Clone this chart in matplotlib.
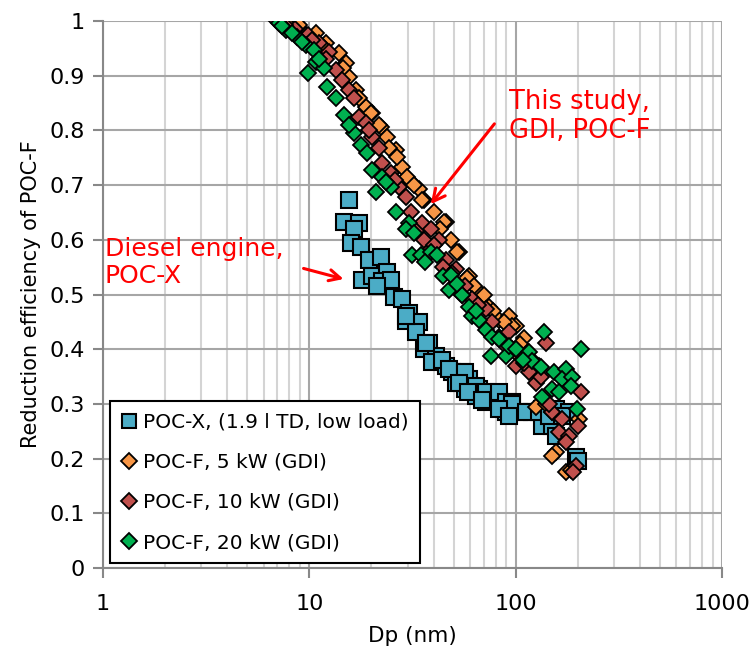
import matplotlib.pyplot as plt
from matplotlib.ticker import LogLocator, NullFormatter, FixedLocator

# POC-X, 1.9 l TD, low load
x_dp = [15.6, 14.7, 17.4, 16.4, 15.9, 17.8, 19.5, 22.3, 18.0, 20.1, 23.8, 22.5, 24.9, 21.3,
        25.7, 28.1, 30.4, 29.4, 34.0, 33.0, 38.1, 36.0, 41.0, 39.4, 46.0, 49.0, 55.0, 51.4,
        59.4, 57.1, 66.5, 64.2, 74.3, 83.1, 71.9, 96.0, 89.9, 104, 120, 134, 157, 181, 134,
        150, 196, 29.4, 36.7, 44.0, 47.6, 57.0, 53.0, 64.0, 59.0, 72.0, 83.0, 69.0, 90.0,
        96.0, 83.0, 93.0, 112, 130, 145, 168, 157, 200]
x_eff = [0.673, 0.633, 0.631, 0.619, 0.595, 0.586, 0.564, 0.568, 0.527, 0.533, 0.542, 0.524,
         0.527, 0.515, 0.495, 0.491, 0.467, 0.451, 0.449, 0.432, 0.412, 0.400, 0.387, 0.376,
         0.369, 0.358, 0.358, 0.339, 0.345, 0.327, 0.327, 0.314, 0.318, 0.308, 0.303, 0.303,
         0.285, 0.285, 0.285, 0.290, 0.290, 0.285, 0.259, 0.259, 0.203, 0.460, 0.412, 0.381,
         0.363, 0.358, 0.339, 0.332, 0.321, 0.321, 0.321, 0.308, 0.303, 0.299, 0.290, 0.277,
         0.285, 0.285, 0.277, 0.277, 0.241, 0.196]

# POC-F, 5 kW
f5_dp = [7.3, 8.9, 10.8, 12.0, 13.9, 15.1, 15.6, 16.8, 18.8, 20.1, 22.3, 23.8, 26.3, 28.1,
         30.4, 34.0, 36.0, 46.0, 48.6, 53.2, 59.4, 66.5, 74.3, 83.1, 92.9, 100.5, 120, 130,
         126, 150, 203, 157, 175, 19.9, 21.8, 24.4, 26.6, 29.9, 35.0, 45.0, 52.0, 58.0, 70.0,
         96.0, 110, 150, 185, 8.0, 9.6, 11.5, 14.5, 17.5, 32.0, 40.0, 43.0, 63.0, 78.0, 88.0,
         105, 115, 140]
f5_eff = [1.0, 0.993, 0.978, 0.960, 0.942, 0.923, 0.898, 0.874, 0.843, 0.832, 0.807, 0.788,
          0.764, 0.734, 0.710, 0.693, 0.672, 0.633, 0.600, 0.578, 0.533, 0.504, 0.478, 0.454,
          0.460, 0.442, 0.381, 0.369, 0.294, 0.285, 0.272, 0.212, 0.175, 0.832, 0.810, 0.768,
          0.752, 0.714, 0.673, 0.633, 0.578, 0.531, 0.500, 0.442, 0.420, 0.204, 0.180, 0.990,
          0.975, 0.955, 0.915, 0.860, 0.700, 0.650, 0.620, 0.515, 0.470, 0.450, 0.410, 0.395,
          0.300]

# POC-F, 10 kW
f10_dp = [7.0, 8.5, 9.8, 11.1, 12.5, 13.5, 14.4, 15.6, 16.5, 17.4, 18.8, 20.1, 21.7, 22.5,
          24.9, 27.2, 29.4, 35.1, 38.9, 42.5, 33.0, 36.0, 38.9, 46.0, 44.3, 51.4, 57.1, 61.3,
          55.0, 71.9, 76.8, 83.1, 92.9, 96.0, 104, 100, 116, 126, 140, 150, 168, 162, 181,
          175, 207, 196, 190, 145, 200, 7.6, 10.3, 12.0, 19.5, 26.0, 31.0, 40.0, 49.0, 66.0,
          88.0, 110, 133]
f10_eff = [1.0, 0.985, 0.974, 0.960, 0.943, 0.911, 0.892, 0.874, 0.859, 0.825, 0.814, 0.788,
           0.768, 0.741, 0.723, 0.697, 0.679, 0.631, 0.619, 0.600, 0.616, 0.599, 0.584, 0.564,
           0.551, 0.546, 0.515, 0.491, 0.500, 0.473, 0.449, 0.423, 0.431, 0.400, 0.387, 0.369,
           0.358, 0.339, 0.412, 0.285, 0.272, 0.248, 0.241, 0.230, 0.321, 0.186, 0.175, 0.300,
           0.260, 0.992, 0.965, 0.930, 0.800, 0.710, 0.650, 0.590, 0.540, 0.480, 0.410, 0.375,
           0.350]

# POC-F, 20 kW
f20_dp = [7.1, 7.7, 8.7, 9.6, 10.5, 10.8, 9.9, 11.8, 12.2, 13.5, 14.7, 16.5, 17.8, 19.0, 20.1,
          22.5, 24.9, 21.0, 26.3, 30.4, 29.4, 32.2, 31.3, 34.6, 38.9, 41.5, 44.3, 48.6, 47.6,
          55.0, 59.4, 61.3, 66.5, 71.9, 76.8, 83.1, 75.6, 89.9, 92.9, 100, 116, 120, 137, 133,
          153, 175, 168, 187, 185, 150, 162, 207, 198, 134, 7.4, 8.2, 9.2, 11.2, 15.5, 23.5,
          36.5, 52.0, 64.0, 108]
f20_eff = [0.996, 0.984, 0.971, 0.956, 0.947, 0.925, 0.905, 0.914, 0.880, 0.859, 0.828, 0.796,
           0.774, 0.759, 0.728, 0.714, 0.697, 0.688, 0.651, 0.631, 0.619, 0.613, 0.573, 0.573,
           0.577, 0.573, 0.533, 0.536, 0.509, 0.500, 0.478, 0.460, 0.454, 0.436, 0.423, 0.418,
           0.387, 0.387, 0.405, 0.400, 0.394, 0.378, 0.431, 0.367, 0.358, 0.363, 0.345, 0.350,
           0.332, 0.327, 0.321, 0.400, 0.290, 0.312, 0.990, 0.978, 0.962, 0.930, 0.810, 0.705,
           0.560, 0.520, 0.470, 0.380]

plt.rcParams['font.family'] = 'DejaVu Sans'
plt.rcParams['font.size'] = 14.5

fig = plt.figure(figsize=(7.5, 6.47), dpi=100)
ax = fig.add_axes([0.1373, 0.1221, 0.8254, 0.8454])

ax.plot(x_dp, x_eff, 's', ms=12, mfc='#4bacc6', mec='black', mew=1.5,
        label='POC-X, (1.9 l TD, low load)')
ax.plot(f5_dp, f5_eff, 'D', ms=8.3, mfc='#f79646', mec='black', mew=1.3,
        label='POC-F, 5 kW (GDI)')
ax.plot(f10_dp, f10_eff, 'D', ms=8.3, mfc='#c0504d', mec='black', mew=1.3,
        label='POC-F, 10 kW (GDI)')
ax.plot(f20_dp, f20_eff, 'D', ms=8.3, mfc='#00b050', mec='black', mew=1.3,
        label='POC-F, 20 kW (GDI)')

ax.set_xscale('log')
ax.set_xlim(1, 1000)
ax.set_ylim(0, 1)
ax.set_xticks([1, 10, 100, 1000])
ax.set_xticklabels(['1', '10', '100', '1000'])
ax.xaxis.set_minor_locator(LogLocator(base=10, subs=range(2, 10)))
ax.xaxis.set_minor_formatter(NullFormatter())
ax.yaxis.set_major_locator(FixedLocator([i / 10 for i in range(11)]))
ax.set_yticklabels(['0'] + ['%.1f' % (i / 10) for i in range(1, 10)] + ['1'])

ax.grid(True, which='major', color='#a6a6a6', lw=1.5)
ax.grid(True, which='minor', axis='x', color='#d4d4d4', lw=1.5)
ax.set_axisbelow(True)
for s in ['top', 'right']:
    ax.spines[s].set_visible(False)
for s in ['left', 'bottom']:
    ax.spines[s].set_color('#888888')
    ax.spines[s].set_linewidth(1.5)
ax.tick_params(which='major', length=7, width=1.5, color='#888888', labelsize=16)
ax.tick_params(axis='x', pad=12)
ax.tick_params(axis='y', pad=6)
ax.tick_params(which='minor', length=0)

ax.set_xlabel('Dp (nm)', fontsize=15.5, labelpad=8)
ax.set_ylabel('Reduction efficiency of POC-F', fontsize=15, labelpad=6)

leg = ax.legend(loc='lower left', bbox_to_anchor=(0.011, 0.009), borderaxespad=0,
                fancybox=False, edgecolor='black', framealpha=1, handlelength=0.8,
                handletextpad=0.3, labelspacing=1.05, borderpad=0.55, markerscale=1.0)
leg.get_frame().set_linewidth(1.5)
leg.legend_handles[0].set_markersize(10)
for h in leg.legend_handles[1:]:
    h.set_markersize(8)

ax.annotate('', xy=(38.0, 0.661), xytext=(80.4, 0.816),
            arrowprops=dict(arrowstyle='->', color='red', lw=2.2, mutation_scale=22))
ax.text(93, 0.875, 'This study,\nGDI, POC-F', color='red', fontsize=18.5,
        ha='left', va='top', linespacing=1.15)
ax.annotate('', xy=(15.1, 0.527), xytext=(9.1, 0.549),
            arrowprops=dict(arrowstyle='->', color='red', lw=2.2, mutation_scale=20))
ax.text(1.02, 0.605, 'Diesel engine,\nPOC-X', color='red', fontsize=18,
        ha='left', va='top', linespacing=1.15)

fig.savefig('out.png', dpi=100)
